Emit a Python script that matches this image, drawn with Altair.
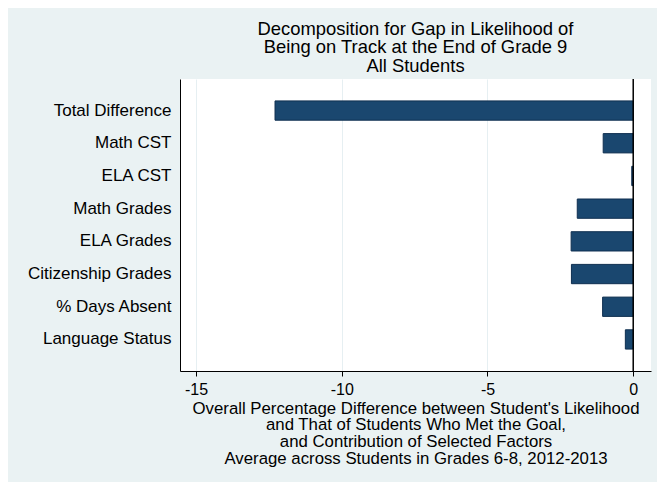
import altair as alt
import pandas as pd

categories = ["Total Difference", "Math CST", "ELA CST", "Math Grades",
              "ELA Grades", "Citizenship Grades", "% Days Absent", "Language Status"]
values = [-12.29, -1.03, -0.05, -1.92, -2.13, -2.12, -1.05, -0.27]
tick_values = [-15, -10, -5, 0]
title_lines = ["Decomposition for Gap in Likelihood of",
               "Being on Track at the End of Grade 9",
               "All Students"]
xtitle_lines = ["Overall Percentage Difference between Student's Likelihood",
                "and That of Students Who Met the Goal,",
                "and Contribution of Selected Factors",
                "Average across Students in Grades 6-8, 2012-2013"]

df = pd.DataFrame({"factor": categories, "value": values})
FONT = "Liberation Sans, Arial, Helvetica, sans-serif"

xscale = alt.Scale(domain=[-15.55, 0.61], nice=False, zero=False)

bars = alt.Chart(df).mark_bar(color="#1a476f", stroke="#0f2f50", strokeWidth=1).encode(
    x=alt.X("value:Q", scale=xscale,
            axis=alt.Axis(values=tick_values, title=xtitle_lines,
                          labelExpr="toString(datum.value)",
                          grid=True, gridColor="#e6eff2", gridWidth=1,
                          domainColor="black", domainWidth=1,
                          tickColor="black", tickSize=5, ticks=True,
                          labelFontSize=16, labelColor="black", labelFont=FONT,
                          labelPadding=5,
                          titleFontSize=16.8, titleFont=FONT, titleFontWeight="normal",
                          titleColor="black", titleLineHeight=16.8, titlePadding=3)),
    y=alt.Y("factor:N", sort=categories,
            scale=alt.Scale(paddingInner=0.41, paddingOuter=0.67),
            axis=alt.Axis(title=None, ticks=False, grid=False,
                          domainColor="black", domainWidth=1,
                          labelFontSize=17, labelColor="black", labelFont=FONT,
                          labelPadding=9)),
)

zero = alt.Chart(pd.DataFrame({"z": [0]})).mark_rule(color="black", strokeWidth=1.5).encode(
    x=alt.X("z:Q", scale=xscale)
)

chart = alt.layer(bars, zero).properties(
    width=471, height=292,
    title=alt.TitleParams(text=title_lines, fontSize=18.4, lineHeight=18.4,
                          fontWeight="normal", font=FONT, color="black",
                          anchor="middle", offset=3),
    background="#eaf2f3",
    autosize=alt.AutoSizeParams(type="none"),
    padding={"left": 172, "top": 71, "right": 6, "bottom": 111},
).configure_view(fill="white", stroke=None)

chart.save("out.html", embed_options={"renderer": "svg", "actions": False})
